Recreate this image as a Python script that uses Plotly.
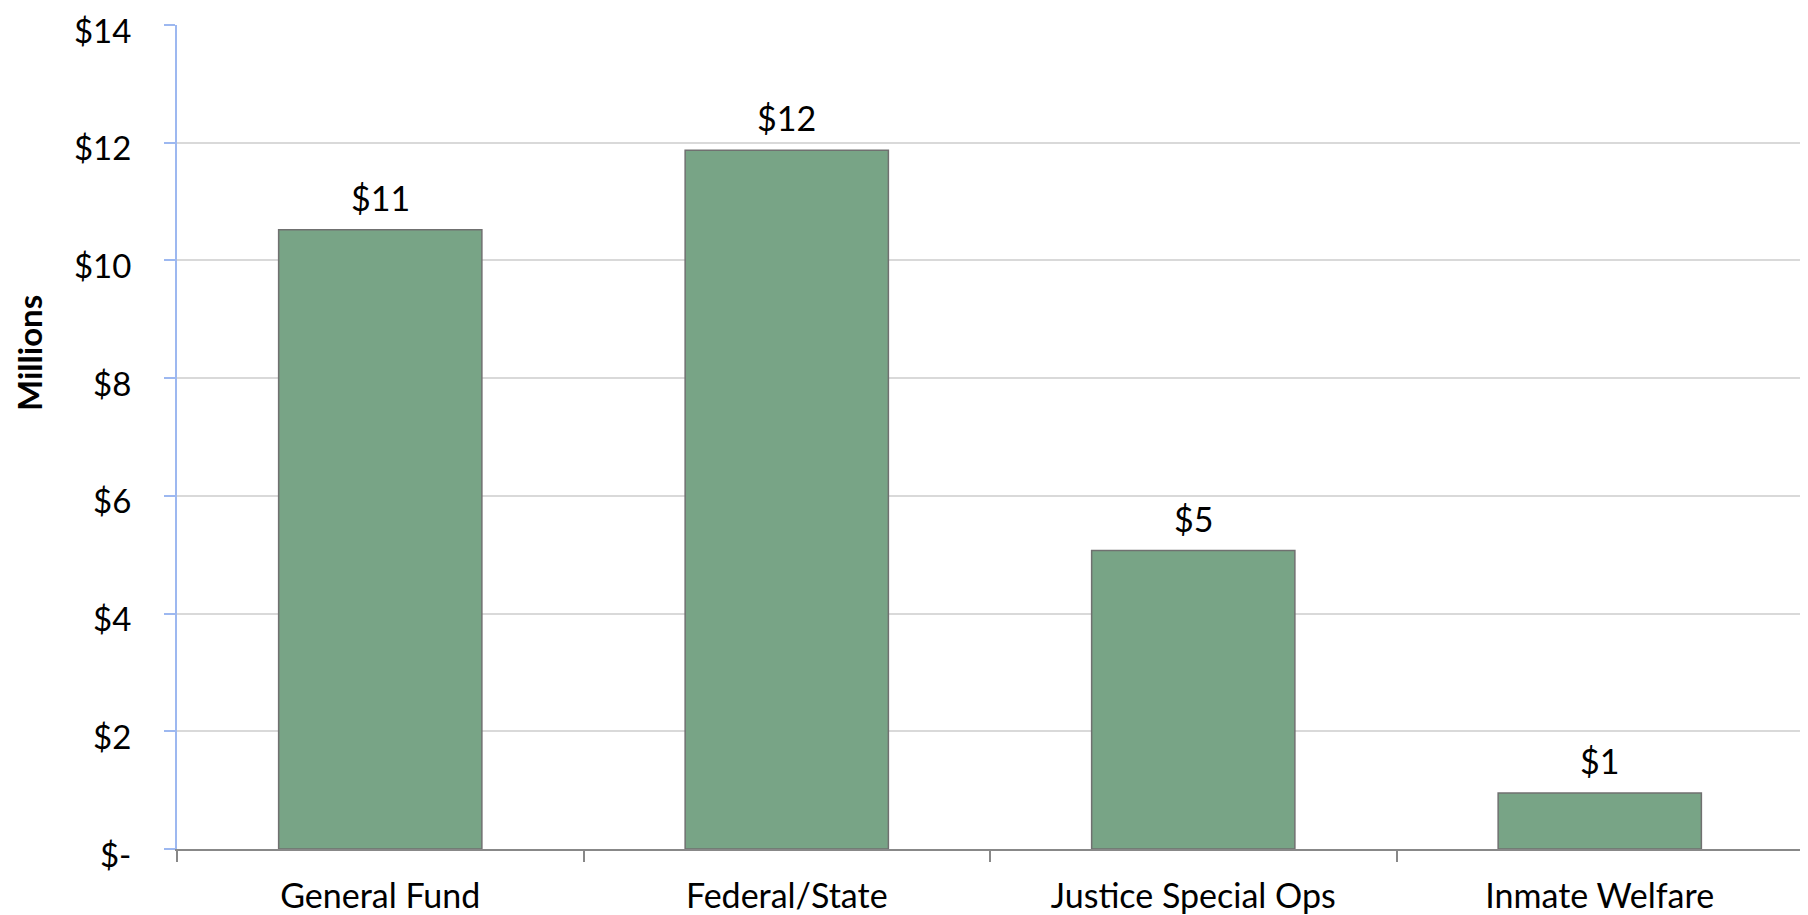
import plotly.graph_objects as go

categories = ["General Fund", "Federal/State", "Justice Special Ops", "Inmate Welfare"]
values = [10.52, 11.87, 5.07, 0.95]
labels = ["$11", "$12", "$5", "$1"]
ytick_vals = [0, 2, 4, 6, 8, 10, 12, 14]
ytick_text = ["$-", "$2", "$4", "$6", "$8", "$10", "$12", "$14"]

FONT = "Lato"
FS = 34
fig = go.Figure()
fig.add_trace(go.Bar(
    x=categories, y=values, width=0.5,
    marker=dict(color="#78a486", line=dict(color="#707070", width=1.5)),
    hoverinfo="skip",
))
for c, v, t in zip(categories, values, labels):
    fig.add_annotation(x=c, y=v, text=t, showarrow=False, yanchor="bottom",
                       yshift=10, font=dict(family=FONT, size=FS, color="#000"))

fig.add_annotation(xref="paper", yref="paper", x=-0.091, y=0.602,
                   text="<b>Millions</b>", textangle=-90, showarrow=False,
                   xanchor="center", yanchor="middle",
                   font=dict(family=FONT, size=33, color="#000"))

fig.update_layout(
    width=1808, height=915,
    margin=dict(l=169, r=13, t=17, b=74),
    plot_bgcolor="white", paper_bgcolor="white",
    showlegend=False,
    font=dict(family=FONT, size=FS, color="#000"),
    xaxis=dict(
        type="category", tickson="boundaries", ticks="outside", ticklen=11,
        tickcolor="#888888", tickwidth=1.5, showline=True, linecolor="#888888",
        linewidth=1.5, showgrid=False, ticklabelstandoff=16,
        range=[-0.5, 3.5], automargin=False,
    ),
    yaxis=dict(
        range=[0, 14], tickvals=ytick_vals, ticktext=ytick_text,
        ticks="outside", ticklen=11, tickcolor="#9db8f0", tickwidth=1.5,
        showline=True, linecolor="#9db8f0", linewidth=2,
        gridcolor="#d9d9d9", gridwidth=1.5, zeroline=False,
        ticklabelstandoff=26, ticklabeloverflow="allow", automargin=False,
        ticklabelshift=6, tickfont=dict(family=FONT, size=33, color="#000"),
    ),
)
fig.write_html("out.html")
